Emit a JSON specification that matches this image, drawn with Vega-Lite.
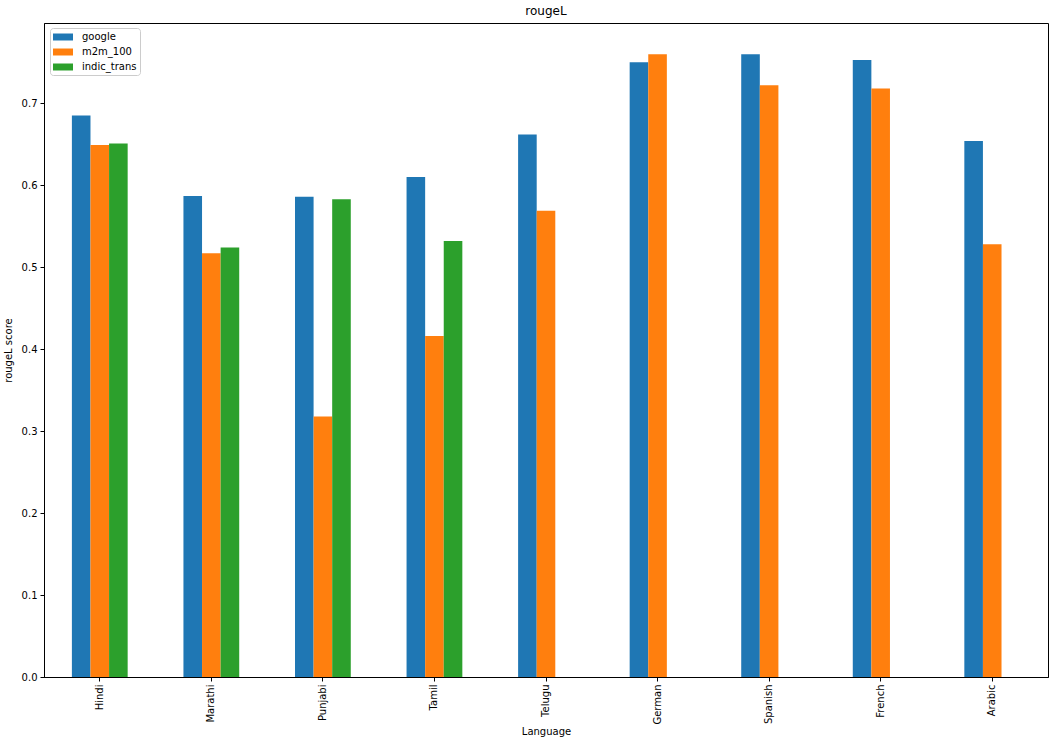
{
  "$schema": "https://vega.github.io/schema/vega-lite/v6.json",
  "autosize": "none",
  "padding": {"left": 44, "top": 23, "right": 7, "bottom": 66},
  "width": 1004,
  "height": 654,
  "background": "white",
  "title": {"text": "rougeL", "fontSize": 12, "fontWeight": "normal", "font": "DejaVu Sans", "color": "black", "offset": 5},
  "data": {
    "values": [
      {"Language": "Hindi", "model": "google", "score": 0.685},
      {"Language": "Hindi", "model": "m2m_100", "score": 0.649},
      {"Language": "Hindi", "model": "indic_trans", "score": 0.651},
      {"Language": "Marathi", "model": "google", "score": 0.587},
      {"Language": "Marathi", "model": "m2m_100", "score": 0.517},
      {"Language": "Marathi", "model": "indic_trans", "score": 0.524},
      {"Language": "Punjabi", "model": "google", "score": 0.586},
      {"Language": "Punjabi", "model": "m2m_100", "score": 0.318},
      {"Language": "Punjabi", "model": "indic_trans", "score": 0.583},
      {"Language": "Tamil", "model": "google", "score": 0.610},
      {"Language": "Tamil", "model": "m2m_100", "score": 0.416},
      {"Language": "Tamil", "model": "indic_trans", "score": 0.532},
      {"Language": "Telugu", "model": "google", "score": 0.662},
      {"Language": "Telugu", "model": "m2m_100", "score": 0.569},
      {"Language": "German", "model": "google", "score": 0.750},
      {"Language": "German", "model": "m2m_100", "score": 0.760},
      {"Language": "Spanish", "model": "google", "score": 0.760},
      {"Language": "Spanish", "model": "m2m_100", "score": 0.722},
      {"Language": "French", "model": "google", "score": 0.753},
      {"Language": "French", "model": "m2m_100", "score": 0.718},
      {"Language": "Arabic", "model": "google", "score": 0.654},
      {"Language": "Arabic", "model": "m2m_100", "score": 0.528}
    ]
  },
  "mark": {"type": "bar"},
  "encoding": {
    "x": {
      "field": "Language",
      "type": "nominal",
      "sort": ["Hindi", "Marathi", "Punjabi", "Tamil", "Telugu", "German", "Spanish", "French", "Arabic"],
      "scale": {"paddingInner": 0.5, "paddingOuter": 0.25},
      "axis": {"title": "Language", "labelAngle": -90, "titlePadding": 2}
    },
    "xOffset": {
      "field": "model",
      "type": "nominal",
      "sort": ["google", "m2m_100", "indic_trans"],
      "scale": {"domain": ["google", "m2m_100", "indic_trans"], "paddingInner": 0, "paddingOuter": 0}
    },
    "y": {
      "field": "score",
      "type": "quantitative",
      "scale": {"domain": [0, 0.798], "nice": false, "zero": true},
      "axis": {"title": "rougeL score", "values": [0, 0.1, 0.2, 0.3, 0.4, 0.5, 0.6, 0.7], "format": ".1f", "titlePadding": 8}
    },
    "color": {
      "field": "model",
      "type": "nominal",
      "sort": ["google", "m2m_100", "indic_trans"],
      "scale": {"domain": ["google", "m2m_100", "indic_trans"], "range": ["#1f77b4", "#ff7f0e", "#2ca02c"]},
      "legend": {
        "title": null,
        "orient": "none",
        "legendX": 6,
        "legendY": 5,
        "symbolType": "M-1.667,-0.583L1.667,-0.583L1.667,0.583L-1.667,0.583Z",
        "symbolSize": 144,
        "symbolOffset": 4,
        "symbolStrokeWidth": 0,
        "labelOffset": 13,
        "labelFontSize": 10,
        "labelFont": "DejaVu Sans",
        "labelColor": "black",
        "rowPadding": 4,
        "padding": 3,
        "strokeColor": "#cccccc",
        "fillColor": "white",
        "cornerRadius": 3
      }
    }
  },
  "config": {
    "view": {"stroke": "black", "strokeWidth": 1},
    "axis": {
      "grid": false,
      "domainColor": "black",
      "tickColor": "black",
      "tickSize": 4,
      "labelFont": "DejaVu Sans",
      "labelFontSize": 10,
      "labelColor": "black",
      "titleFont": "DejaVu Sans",
      "titleFontSize": 10,
      "titleFontWeight": "normal",
      "titleColor": "black",
      "labelPadding": 3
    }
  }
}
